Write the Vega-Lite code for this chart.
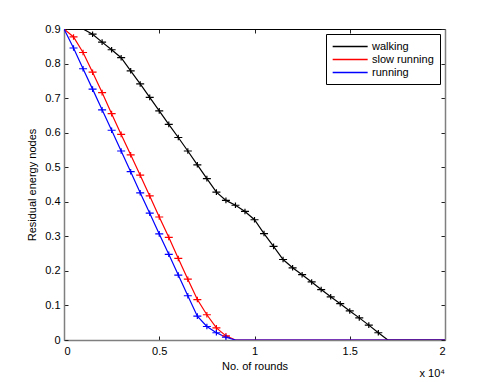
{
  "$schema": "https://vega.github.io/schema/vega-lite/v6.json",
  "width": 381,
  "height": 311,
  "autosize": {"type": "none"},
  "padding": {"left": 64, "top": 29, "right": 46, "bottom": 42},
  "background": "white",
  "config": {
    "font": "Liberation Sans",
    "view": {"stroke": null},
    "axis": {
      "grid": false,
      "labelFont": "Liberation Sans",
      "labelFontSize": 11,
      "labelColor": "black",
      "titleFont": "Liberation Sans",
      "titleFontSize": 11,
      "titleFontWeight": "normal",
      "titleColor": "black",
      "tickSize": -4,
      "tickColor": "#222222",
      "domainColor": "#7f7f7f",
      "domainWidth": 1.5
    }
  },
  "title": {
    "text": "x 10⁴",
    "orient": "bottom",
    "anchor": "end",
    "frame": "group",
    "offset": -3,
    "font": "Liberation Sans",
    "fontSize": 11,
    "fontWeight": "normal",
    "color": "black"
  },
  "data": {
    "values": [
      {"series": "walking", "rounds": 0, "v": 0.9},
      {"series": "walking", "rounds": 500, "v": 0.9},
      {"series": "walking", "rounds": 1000, "v": 0.9},
      {"series": "walking", "rounds": 1500, "v": 0.885},
      {"series": "walking", "rounds": 2000, "v": 0.862},
      {"series": "walking", "rounds": 2500, "v": 0.84},
      {"series": "walking", "rounds": 3000, "v": 0.817},
      {"series": "walking", "rounds": 3500, "v": 0.779},
      {"series": "walking", "rounds": 4000, "v": 0.741},
      {"series": "walking", "rounds": 4500, "v": 0.702},
      {"series": "walking", "rounds": 5000, "v": 0.663},
      {"series": "walking", "rounds": 5500, "v": 0.624},
      {"series": "walking", "rounds": 6000, "v": 0.586},
      {"series": "walking", "rounds": 6500, "v": 0.547},
      {"series": "walking", "rounds": 7000, "v": 0.507},
      {"series": "walking", "rounds": 7500, "v": 0.467},
      {"series": "walking", "rounds": 8000, "v": 0.428},
      {"series": "walking", "rounds": 8500, "v": 0.404},
      {"series": "walking", "rounds": 9000, "v": 0.39},
      {"series": "walking", "rounds": 9500, "v": 0.372},
      {"series": "walking", "rounds": 10000, "v": 0.348},
      {"series": "walking", "rounds": 10500, "v": 0.308},
      {"series": "walking", "rounds": 11000, "v": 0.271},
      {"series": "walking", "rounds": 11500, "v": 0.233},
      {"series": "walking", "rounds": 12000, "v": 0.209},
      {"series": "walking", "rounds": 12500, "v": 0.189},
      {"series": "walking", "rounds": 13000, "v": 0.168},
      {"series": "walking", "rounds": 13500, "v": 0.146},
      {"series": "walking", "rounds": 14000, "v": 0.125},
      {"series": "walking", "rounds": 14500, "v": 0.105},
      {"series": "walking", "rounds": 15000, "v": 0.084},
      {"series": "walking", "rounds": 15500, "v": 0.064},
      {"series": "walking", "rounds": 16000, "v": 0.043},
      {"series": "walking", "rounds": 16500, "v": 0.021},
      {"series": "walking", "rounds": 17000, "v": 0},
      {"series": "walking", "rounds": 20000, "v": 0},
      {"series": "slow running", "rounds": 0, "v": 0.9},
      {"series": "slow running", "rounds": 500, "v": 0.877},
      {"series": "slow running", "rounds": 1000, "v": 0.832},
      {"series": "slow running", "rounds": 1500, "v": 0.775},
      {"series": "slow running", "rounds": 2000, "v": 0.716},
      {"series": "slow running", "rounds": 2500, "v": 0.655},
      {"series": "slow running", "rounds": 3000, "v": 0.595},
      {"series": "slow running", "rounds": 3500, "v": 0.536},
      {"series": "slow running", "rounds": 4000, "v": 0.477},
      {"series": "slow running", "rounds": 4500, "v": 0.417},
      {"series": "slow running", "rounds": 5000, "v": 0.356},
      {"series": "slow running", "rounds": 5500, "v": 0.297},
      {"series": "slow running", "rounds": 6000, "v": 0.236},
      {"series": "slow running", "rounds": 6500, "v": 0.176},
      {"series": "slow running", "rounds": 7000, "v": 0.117},
      {"series": "slow running", "rounds": 7500, "v": 0.073},
      {"series": "slow running", "rounds": 8000, "v": 0.035},
      {"series": "slow running", "rounds": 8500, "v": 0.012},
      {"series": "slow running", "rounds": 9000, "v": 0},
      {"series": "slow running", "rounds": 20000, "v": 0},
      {"series": "running", "rounds": 0, "v": 0.9},
      {"series": "running", "rounds": 500, "v": 0.845},
      {"series": "running", "rounds": 1000, "v": 0.785},
      {"series": "running", "rounds": 1500, "v": 0.726},
      {"series": "running", "rounds": 2000, "v": 0.666},
      {"series": "running", "rounds": 2500, "v": 0.607},
      {"series": "running", "rounds": 3000, "v": 0.547},
      {"series": "running", "rounds": 3500, "v": 0.487},
      {"series": "running", "rounds": 4000, "v": 0.426},
      {"series": "running", "rounds": 4500, "v": 0.367},
      {"series": "running", "rounds": 5000, "v": 0.307},
      {"series": "running", "rounds": 5500, "v": 0.248},
      {"series": "running", "rounds": 6000, "v": 0.188},
      {"series": "running", "rounds": 6500, "v": 0.128},
      {"series": "running", "rounds": 7000, "v": 0.069},
      {"series": "running", "rounds": 7500, "v": 0.039},
      {"series": "running", "rounds": 8000, "v": 0.021},
      {"series": "running", "rounds": 8500, "v": 0.008},
      {"series": "running", "rounds": 9000, "v": 0},
      {"series": "running", "rounds": 20000, "v": 0}
    ]
  },
  "layer": [
    {
      "mark": {"type": "line", "strokeWidth": 1.2, "clip": true},
      "encoding": {
        "x": {
          "field": "rounds",
          "type": "quantitative",
          "scale": {"domain": [0, 20000], "nice": false},
          "axis": {
            "orient": "bottom",
            "values": [0, 5000, 10000, 15000, 20000],
            "labelExpr": "datum.value / 10000",
            "title": "No. of rounds",
            "labelPadding": 9,
            "titlePadding": 4
          }
        },
        "y": {
          "field": "v",
          "type": "quantitative",
          "scale": {"domain": [0, 0.9], "nice": false, "zero": false},
          "axis": {
            "orient": "left",
            "values": [0, 0.1, 0.2, 0.3, 0.4, 0.5, 0.6, 0.7, 0.8, 0.9],
            "format": ".1~f",
            "title": "Residual energy nodes",
            "labelPadding": 8,
            "titlePadding": 7
          }
        },
        "color": {
          "field": "series",
          "type": "nominal",
          "scale": {
            "domain": ["walking", "slow running", "running"],
            "range": ["#000000", "#ff0000", "#0000ff"]
          },
          "legend": {
            "orient": "top-right",
            "offset": 5,
            "title": null,
            "symbolType": "M-1,0H5",
            "symbolSize": 136,
            "symbolStrokeWidth": 1.3,
            "labelOffset": 27,
            "labelFont": "Liberation Sans",
            "labelFontSize": 11,
            "labelColor": "black",
            "padding": 6,
            "rowPadding": 1,
            "strokeColor": "#000000",
            "fillColor": "white"
          }
        }
      }
    },
    {
      "transform": [{"filter": "datum.v > 0 && datum.v < 0.9"}],
      "mark": {
        "type": "point",
        "shape": "M-1,0H1M0,-0.7V0.7",
        "filled": false,
        "strokeWidth": 1.2,
        "size": 64,
        "opacity": 1
      },
      "encoding": {
        "x": {
          "field": "rounds",
          "type": "quantitative",
          "axis": {
            "orient": "top",
            "values": [0, 5000, 10000, 15000, 20000],
            "labels": false,
            "title": null,
            "domainColor": "#000000",
            "domainWidth": 1
          }
        },
        "y": {
          "field": "v",
          "type": "quantitative",
          "axis": {
            "orient": "right",
            "values": [0, 0.1, 0.2, 0.3, 0.4, 0.5, 0.6, 0.7, 0.8, 0.9],
            "labels": false,
            "title": null
          }
        },
        "stroke": {
          "field": "series",
          "type": "nominal",
          "scale": {
            "domain": ["walking", "slow running", "running"],
            "range": ["#000000", "#ff0000", "#0000ff"]
          },
          "legend": null
        }
      }
    }
  ],
  "resolve": {"axis": {"x": "independent", "y": "independent"}}
}
